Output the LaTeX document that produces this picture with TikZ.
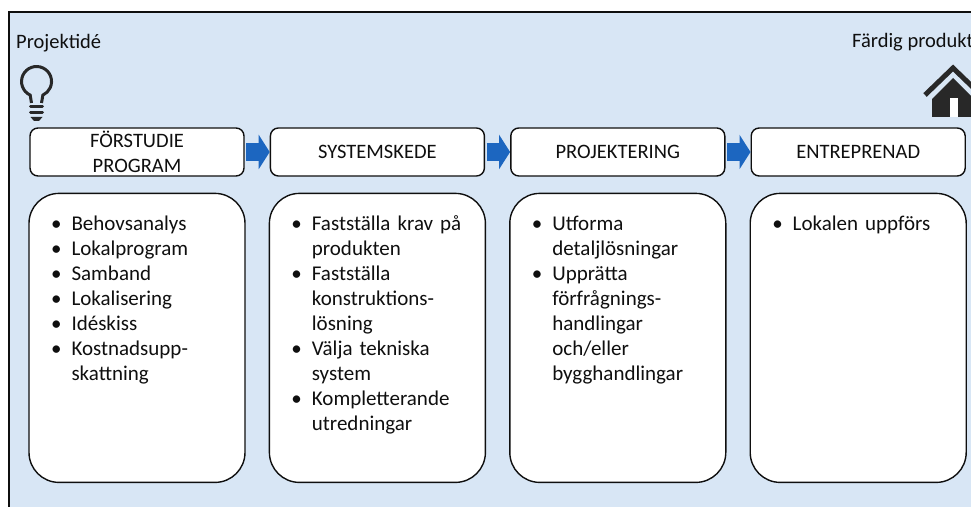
\documentclass[tikz,border=0pt]{standalone}
\usepackage{fontspec}
\setmainfont{Carlito}
\usepackage{enumitem}
\usetikzlibrary{positioning,arrows.meta}
\definecolor{bgblue}{RGB}{216,230,245}
\definecolor{flowblue}{RGB}{28,102,192}
\definecolor{ink}{RGB}{15,15,15}
\definecolor{housegray}{RGB}{40,40,40}
\tikzset{
  stage/.style={draw=ink, line width=1.4pt, fill=white, rounded corners=8pt, minimum width=214pt, minimum height=48pt, align=center, font=\fontsize{20.5}{25}\selectfont, text=ink, inner sep=0pt},
  panel/.style={draw=ink, line width=1.4pt, fill=white, rounded corners=30pt, minimum width=216pt, minimum height=289pt},
  bullets/.style={anchor=north west, inner sep=0pt, text width=180pt, align=left, font=\fontsize{21}{25}\selectfont, text=ink},
  flow/.style={flowblue, line width=18pt, -{Triangle[length=11pt,width=34pt]}, shorten <=1.5pt},
  caption/.style={anchor=west, inner sep=0pt, font=\fontsize{20.5}{24}\selectfont, text=ink},
  icon/.style={housegray, line width=3pt},
}
\newcommand{\steplist}[1]{\begin{itemize}[nosep,leftmargin=19pt,labelsep=10pt,label=\textbullet]#1\end{itemize}}

\begin{document}
\begin{tikzpicture}[x=1pt,y=1pt]
  \clip (0,0) rectangle (971,506);
  \fill[white] (0,0) rectangle (971,506);
      \draw[fill=bgblue, draw=ink, line width=1.5pt] (9,-20) rectangle (1000,494);

  \node[caption] (idea) at (16,463) {Projektidé};
  \node[caption] (done) at (852,464) {Färdig produkt};

  \draw[icon] (31.5,403) -- (30.2,410.9) arc[start angle=245, end angle=-65, radius=15] -- (41.5,403);
  \draw[icon, line cap=round] (30.5,399) -- (42.5,399) (30.5,393) -- (42.5,393);
  \fill[housegray] (30.5,389) -- (42.5,389) -- (39,385) -- (34,385) -- cycle;

  \draw[housegray, line width=5pt] (925,411) -- (953,438) -- (981,411);
  \fill[housegray] (932,389) -- (932,407) -- (953,428) -- (974,407) -- (974,389) -- cycle;
  \fill[white] (950,389) rectangle (958,408);

  \node[stage] (fors) at (137,354) {FÖRSTUDIE\\PROGRAM};
  \node[stage, right=25pt of fors] (syst) {SYSTEMSKEDE};
  \node[stage, right=25pt of syst] (proj) {PROJEKTERING};
  \node[stage, right=25pt of proj] (entr) {ENTREPRENAD};

  \draw[flow] (fors) -- (syst);
  \draw[flow] (syst) -- (proj);
  \draw[flow] (proj) -- (entr);

  \node[panel, below=16pt of fors] (forsP) {};
  \node[panel, below=16pt of syst] (systP) {};
  \node[panel, below=16pt of proj] (projP) {};
  \node[panel, below=16pt of entr] (entrP) {};

  \node[bullets] (forsL) at ([xshift=24pt,yshift=-13pt]forsP.north west) {\steplist{\item Behovsanalys \item Lokalprogram \item Samband \item Lokalisering \item Idéskiss \item Kostnadsupp-\newline skattning}};
  \node[bullets] (systL) at ([xshift=24pt,yshift=-13pt]systP.north west) {\steplist{\item Fastställa krav på\newline produkten \item Fastställa\newline konstruktions-\newline lösning \item Välja tekniska\newline system \item Kompletterande\newline utredningar}};
  \node[bullets] (projL) at ([xshift=24pt,yshift=-13pt]projP.north west) {\steplist{\item Utforma\newline detaljlösningar \item Upprätta\newline förfrågnings-\newline handlingar\newline och/eller\newline bygghandlingar}};
  \node[bullets] (entrL) at ([xshift=24pt,yshift=-13pt]entrP.north west) {\steplist{\item Lokalen uppförs}};
\end{tikzpicture}
\end{document}
